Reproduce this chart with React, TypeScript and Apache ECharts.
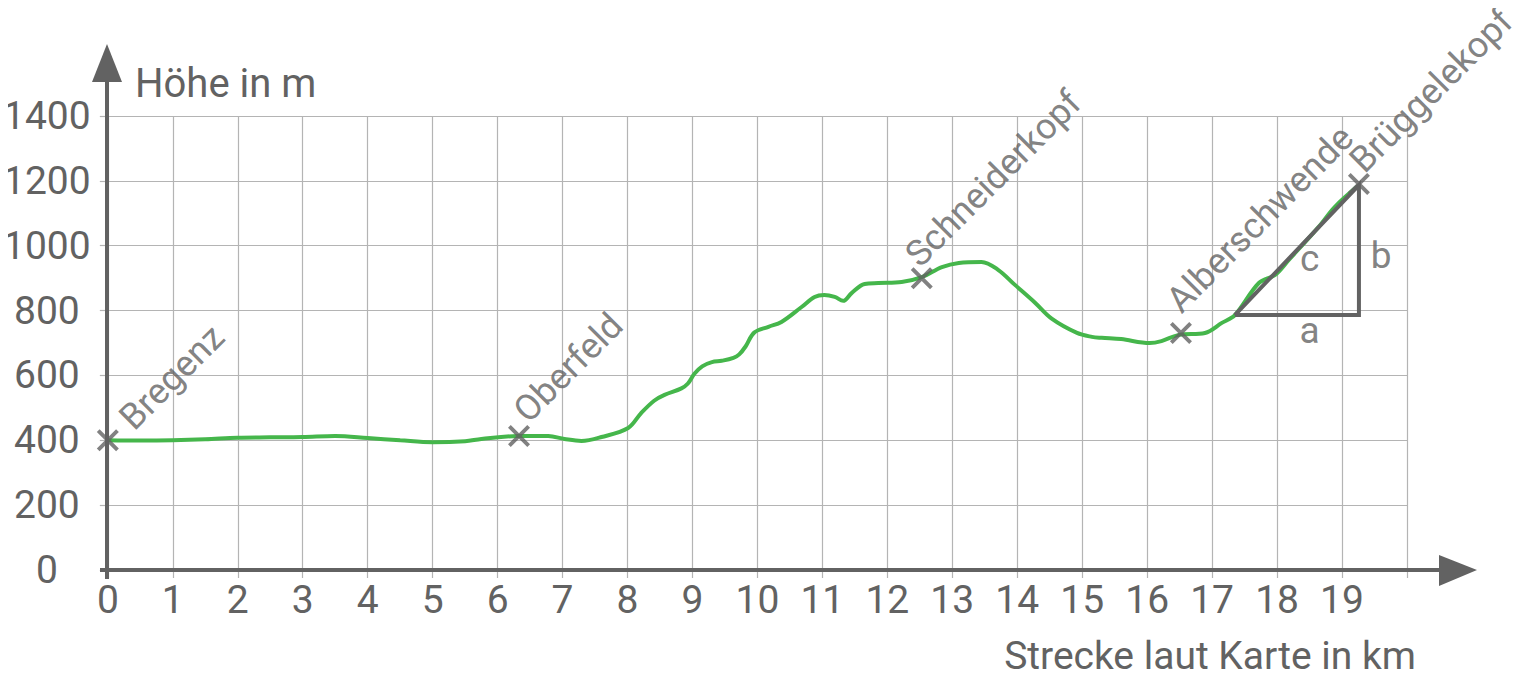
import React, { useEffect, useRef } from 'react';
import * as echarts from 'echarts';

// ---- data ----
const xMin = 0;
const xMax = 20;
const yMin = 0;
const yMax = 1400;
const profileX = [0, 0.5, 1, 1.5, 2, 2.5, 3, 3.5, 4, 4.5, 5, 5.5, 5.75, 6.32, 6.78, 7.03, 7.29, 7.6, 8.01, 8.21, 8.41, 8.57, 8.83, 8.93, 9.03, 9.15, 9.3, 9.45, 9.63, 9.72, 9.82, 9.95, 10.17, 10.37, 10.68, 10.88, 11.03, 11.19, 11.32, 11.45, 11.65, 11.86, 12.22, 12.53, 12.84, 13.1, 13.45, 13.71, 13.96, 14.27, 14.53, 14.92, 15.15, 15.3, 15.6, 16.04, 16.22, 16.49, 16.89, 17.15, 17.35, 17.72, 17.97, 18.18, 18.64, 18.89, 19.26];
const profileY = [400, 399, 400, 403, 408, 409, 410, 413, 407, 400, 394, 397, 404, 413, 413, 404, 398, 410, 438, 484, 522, 540, 560, 575, 605, 628, 641, 645, 654, 665, 690, 732, 750, 765, 811, 842, 848, 842, 830, 854, 882, 885, 888, 903, 934, 947, 950, 925, 880, 825, 775, 731, 719, 716, 712, 700, 706, 725, 731, 762, 786, 885, 910, 956, 1058, 1120, 1187];
const placeNames = ['Bregenz', 'Oberfeld', 'Schneiderkopf', 'Alberschwende', 'Brüggelekopf'];
const placeX = [0, 6.33, 12.53, 16.52, 19.26];
const placeY = [400, 413, 900, 731, 1190];
const triangleX = [17.35, 19.26, 19.26, 17.35];
const triangleY = [786, 786, 1187, 786];
const sideNames = ['a', 'b', 'c'];
const sideX = [18.5, 19.6, 18.5];
const sideY = [740, 971, 962];
const xTitle = 'Strecke laut Karte in km';
const yTitle = 'Höhe in m';

// label placement (pixel offsets of each name from its marker centre)
const labelShift: [number, number][] = [[18, -17], [1, -20], [-10, -18], [-8, -27], [-3, -18]];

const GRAY = '#626262';
const GRID = '#b4b4b4';
const GREEN = '#45b64b';
const FONT = 'Roboto';
const MARK = 22;

const CROSS = 'path://M2.5,0 L10,7.5 L17.5,0 L20,2.5 L12.5,10 L20,17.5 L17.5,20 L10,12.5 L2.5,20 L0,17.5 L7.5,10 L0,2.5 Z';

export default function App() {
  const ref = useRef<HTMLDivElement>(null);
  useEffect(() => {
    if (!ref.current) return;
    const chart = echarts.init(ref.current, null, { renderer: 'svg' });
    const L = 107, T = 116, W = 1300, H = 454;
    const option: any = {
      animation: false,
      backgroundColor: '#ffffff',
      grid: { left: L, top: T, width: W, height: H, containLabel: false },
      xAxis: {
        type: 'value', min: xMin, max: xMax, interval: 1,
        axisLine: { show: false },
        axisTick: { show: true, length: 8, lineStyle: { color: GRID, width: 1.2 } },
        splitLine: { show: true, lineStyle: { color: GRID, width: 1.2 } },
        axisLabel: {
          show: true, margin: 10, color: GRAY, fontFamily: FONT, fontSize: 39,
          formatter: (v: number) => (v >= xMax ? '' : String(v)),
        },
      },
      yAxis: {
        type: 'value', min: yMin, max: yMax, interval: 200,
        axisLine: { show: false },
        axisTick: { show: true, length: 8, lineStyle: { color: GRID, width: 1.2 } },
        splitLine: { show: true, lineStyle: { color: GRID, width: 1.2 } },
        axisLabel: {
          show: true, margin: 61, align: 'center', color: GRAY, fontFamily: FONT, fontSize: 39,
          formatter: (v: number) => String(v),
        },
      },
      graphic: [
        { type: 'line', shape: { x1: 100, y1: T + H, x2: 1450, y2: T + H }, style: { stroke: GRAY, lineWidth: 4 }, z: 50 },
        { type: 'polygon', shape: { points: [[1477, T + H], [1439, T + H - 15], [1439, T + H + 16]] }, style: { fill: GRAY }, z: 50 },
        { type: 'line', shape: { x1: L, y1: T + H + 9, x2: L, y2: 70 }, style: { stroke: GRAY, lineWidth: 4 }, z: 50 },
        { type: 'polygon', shape: { points: [[L, 44], [L - 15, 82], [L + 15, 82]] }, style: { fill: GRAY }, z: 50 },
        { type: 'text', x: 135, y: 83, style: { text: yTitle, fill: GRAY, font: `40px ${FONT}`, verticalAlign: 'middle', align: 'left' }, z: 50 },
        { type: 'text', x: 1416, y: 656, style: { text: xTitle, fill: GRAY, font: `39px ${FONT}`, verticalAlign: 'middle', align: 'right' }, z: 50 },
      ],
      series: [
        {
          type: 'line', smooth: 0.35, symbol: 'none', z: 3,
          lineStyle: { color: GREEN, width: 4 },
          data: profileX.map((x, i) => [x, profileY[i]]),
        },
        {
          type: 'line', symbol: 'none', z: 4,
          lineStyle: { color: GRAY, width: 4, join: 'miter' },
          data: triangleX.map((x, i) => [x, triangleY[i]]),
        },
        {
          type: 'scatter', symbol: CROSS, symbolSize: MARK, z: 5,
          itemStyle: { color: GRAY },
          data: placeX.map((x, i) => ({
            value: [x, placeY[i]],
            label: {
              show: true,
              position: [MARK / 2 + labelShift[i][0], MARK / 2 + labelShift[i][1]],
              rotate: 45, align: 'left', verticalAlign: 'middle',
              color: GRAY, fontFamily: FONT, fontSize: 36,
              formatter: placeNames[i],
            },
          })),
        },
        {
          type: 'scatter', symbolSize: 0, z: 5,
          label: {
            show: true, position: 'inside', color: GRAY, fontFamily: FONT, fontSize: 37,
            formatter: (p: any) => sideNames[p.dataIndex],
          },
          data: sideX.map((x, i) => [x, sideY[i]]),
        },
      ],
    };
    chart.setOption(option);
    return () => chart.dispose();
  }, []);
  return <div ref={ref} style={{ width: 1527, height: 683, margin: -8 }} />;
}
